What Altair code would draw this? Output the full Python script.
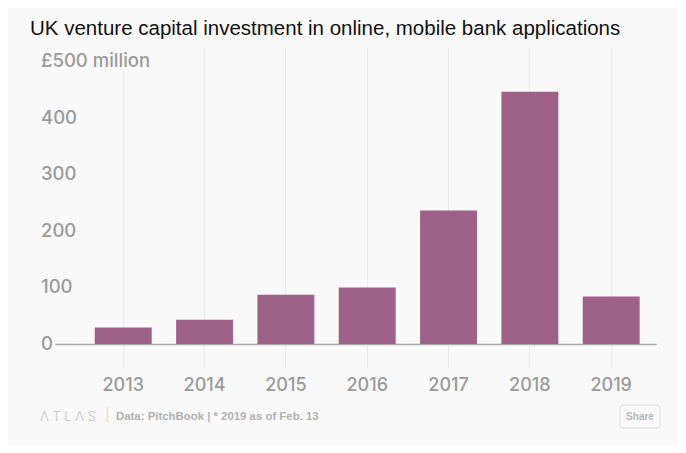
import altair as alt
import pandas as pd

years = ["2013", "2014", "2015", "2016", "2017", "2018", "2019"]
invest = [29, 43, 87, 100, 236, 446, 84]
tick_vals = [0, 100, 200, 300, 400, 500]
tick_labels = ["0", "100", "200", "300", "400", "£500 million"]

title_text = "UK venture capital investment in online, mobile bank applications"
logo_text = "Λ T L Λ S"
source_text = "Data:  PitchBook | * 2019 as of Feb. 13"

BG = "#f9f9f9"
BAR = "#9e6187"
GRID = "#ececec"
LABEL = "#9a9a9a"
FONT = "Inter"

W, H = 615, 297
YDOM = [0, 525]

bars_df = pd.DataFrame({"year": years, "value": invest})
ticks_df = pd.DataFrame({"v": tick_vals, "label": tick_labels})
one = pd.DataFrame({"k": [0]})

xscale = alt.Scale(paddingInner=0.3, paddingOuter=0.431, align=0.767)
yscale = alt.Scale(domain=YDOM, nice=False)

bars = alt.Chart(bars_df).mark_bar(color=BAR).encode(
    x=alt.X("year:N", scale=xscale, sort=years,
            axis=alt.Axis(title=None, labelAngle=0, grid=True, gridColor=GRID,
                          domain=True, domainColor="#aaaaaa", domainWidth=1.5,
                          ticks=True, tickSize=24, tickColor=GRID,
                          labelFont=FONT, labelFontSize=18, labelColor=LABEL,
                          labelFontWeight=500, labelPadding=8)),
    y=alt.Y("value:Q", scale=yscale,
            axis=alt.Axis(title=None, labels=False, ticks=False, domain=False,
                          grid=True, gridColor=GRID, values=tick_vals)),
)

halo = alt.Chart(ticks_df).mark_text(
    align="left", baseline="middle", font=FONT, fontSize=18.5, fontWeight=500,
    stroke=BG, strokeWidth=7, fill=BG,
).encode(x=alt.value(0), y=alt.Y("v:Q", scale=yscale, axis=None), text="label:N")

labels = alt.Chart(ticks_df).mark_text(
    align="left", baseline="middle", font=FONT, fontSize=18.5, fontWeight=500,
    color=LABEL,
).encode(x=alt.value(0), y=alt.Y("v:Q", scale=yscale, axis=None), text="label:N")

logo = alt.Chart(one).mark_text(
    align="left", baseline="middle", font=FONT, fontSize=13, fontWeight=300,
    color="#c4c4c4",
).encode(x=alt.value(-1), y=alt.value(H + 73), text=alt.value(logo_text))

sep = alt.Chart(one).mark_text(
    align="left", baseline="middle", font=FONT, fontSize=13, fontWeight=300,
    color="#d0d0d0",
).encode(x=alt.value(64), y=alt.value(H + 72), text=alt.value("|"))

source = alt.Chart(one).mark_text(
    align="left", baseline="middle", font="Liberation Sans", fontSize=11.4,
    fontWeight="bold", color="#b0b0b0",
).encode(x=alt.value(75), y=alt.value(H + 73), text=alt.value(source_text))

share_box = alt.Chart(one).mark_rect(
    fill=BG, stroke="#dddddd", strokeWidth=1, cornerRadius=3,
).encode(x=alt.value(579), x2=alt.value(619), y=alt.value(358), y2=alt.value(381))

share_txt = alt.Chart(one).mark_text(
    align="center", baseline="middle", font="Liberation Sans", fontSize=10,
    fontWeight="bold", color="#b8b8b8",
).encode(x=alt.value(599), y=alt.value(370), text=alt.value("Share"))

chart = alt.layer(bars, halo, labels, logo, sep, source, share_box, share_txt).properties(
    width=W, height=H,
    title=alt.TitleParams(title_text, anchor="start", dx=-10, dy=20, offset=12,
                          font="Liberation Sans", fontSize=20.5, fontWeight="normal",
                          color="#111111", baseline="alphabetic"),
    autosize=alt.AutoSizeParams(type="none"),
    padding={"left": 33, "top": 39, "right": 22, "bottom": 101},
    background=BG,
).configure_view(stroke=None)

chart.save("out.html", embed_options={"renderer": "svg", "actions": False})
